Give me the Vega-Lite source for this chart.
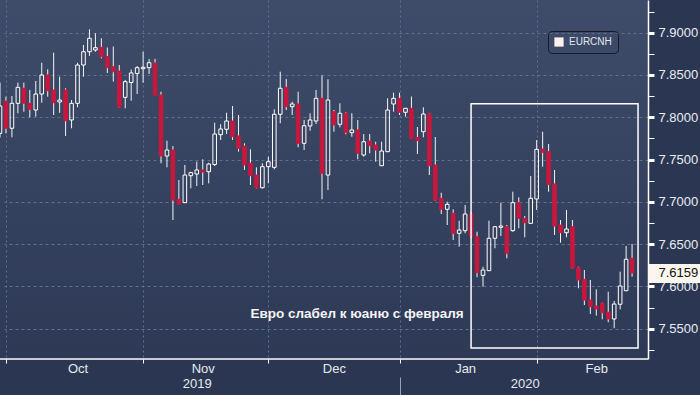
{
"$schema":"https://vega.github.io/schema/vega-lite/v6.json",
"width":648,"height":359,"autosize":"none",
"padding":{"left":0,"top":0,"right":52,"bottom":36},
"background":"#2b3752",
"view":{"stroke":null,"fill":{"gradient":"linear","x1":0,"y1":0,"x2":0,"y2":1,"stops":[{"offset":0,"color":"#3f4c69"},{"offset":1,"color":"#2d3955"}]}},
"data":{"values":[
{"d":"2019-09-30","o":7.7810,"h":7.8411,"l":7.7761,"c":7.8133},
{"d":"2019-10-01","o":7.8192,"h":7.8243,"l":7.7810,"c":7.7870},
{"d":"2019-10-02","o":7.7870,"h":7.8252,"l":7.7763,"c":7.8165},
{"d":"2019-10-03","o":7.8165,"h":7.8409,"l":7.8047,"c":7.8354},
{"d":"2019-10-04","o":7.8343,"h":7.8409,"l":7.8066,"c":7.8165},
{"d":"2019-10-07","o":7.8165,"h":7.8322,"l":7.8000,"c":7.8094},
{"d":"2019-10-08","o":7.8086,"h":7.8429,"l":7.8007,"c":7.8275},
{"d":"2019-10-09","o":7.8275,"h":7.8645,"l":7.8172,"c":7.8500},
{"d":"2019-10-10","o":7.8500,"h":7.8567,"l":7.8243,"c":7.8314},
{"d":"2019-10-11","o":7.8322,"h":7.8764,"l":7.8027,"c":7.8172},
{"d":"2019-10-14","o":7.8181,"h":7.8480,"l":7.8054,"c":7.8204},
{"d":"2019-10-15","o":7.8322,"h":7.8343,"l":7.7779,"c":7.7959},
{"d":"2019-10-16","o":7.7968,"h":7.8204,"l":7.7870,"c":7.8165},
{"d":"2019-10-17","o":7.8165,"h":7.8645,"l":7.8118,"c":7.8618},
{"d":"2019-10-18","o":7.8618,"h":7.8855,"l":7.8480,"c":7.8775},
{"d":"2019-10-21","o":7.8775,"h":7.9040,"l":7.8725,"c":7.8934},
{"d":"2019-10-22","o":7.8795,"h":7.8993,"l":7.8775,"c":7.8823},
{"d":"2019-10-23","o":7.8827,"h":7.8934,"l":7.8697,"c":7.8716},
{"d":"2019-10-24","o":7.8719,"h":7.8825,"l":7.8524,"c":7.8586},
{"d":"2019-10-25","o":7.8598,"h":7.8837,"l":7.8421,"c":7.8539},
{"d":"2019-10-28","o":7.8547,"h":7.8618,"l":7.8110,"c":7.8118},
{"d":"2019-10-29","o":7.8236,"h":7.8441,"l":7.8106,"c":7.8421},
{"d":"2019-10-30","o":7.8411,"h":7.8565,"l":7.8196,"c":7.8524},
{"d":"2019-10-31","o":7.8518,"h":7.8606,"l":7.8275,"c":7.8586},
{"d":"2019-11-01","o":7.8574,"h":7.8775,"l":7.8409,"c":7.8591},
{"d":"2019-11-04","o":7.8586,"h":7.8687,"l":7.8512,"c":7.8645},
{"d":"2019-11-05","o":7.8642,"h":7.8691,"l":7.8263,"c":7.8263},
{"d":"2019-11-06","o":7.8263,"h":7.8302,"l":7.7456,"c":7.7542},
{"d":"2019-11-07","o":7.7542,"h":7.7723,"l":7.7408,"c":7.7613},
{"d":"2019-11-08","o":7.7613,"h":7.7660,"l":7.6785,"c":7.7022},
{"d":"2019-11-11","o":7.7030,"h":7.7258,"l":7.6972,"c":7.6975},
{"d":"2019-11-12","o":7.6990,"h":7.7436,"l":7.6986,"c":7.7317},
{"d":"2019-11-13","o":7.7309,"h":7.7356,"l":7.7160,"c":7.7345},
{"d":"2019-11-14","o":7.7329,"h":7.7475,"l":7.7187,"c":7.7377},
{"d":"2019-11-15","o":7.7377,"h":7.7503,"l":7.7199,"c":7.7353},
{"d":"2019-11-18","o":7.7356,"h":7.7463,"l":7.7219,"c":7.7447},
{"d":"2019-11-19","o":7.7442,"h":7.7936,"l":7.7424,"c":7.7802},
{"d":"2019-11-20","o":7.7794,"h":7.7917,"l":7.7731,"c":7.7861},
{"d":"2019-11-21","o":7.7858,"h":7.8054,"l":7.7802,"c":7.7956},
{"d":"2019-11-22","o":7.7956,"h":7.8133,"l":7.7731,"c":7.7770},
{"d":"2019-11-25","o":7.7779,"h":7.8027,"l":7.7593,"c":7.7633},
{"d":"2019-11-26","o":7.7660,"h":7.7692,"l":7.7377,"c":7.7436},
{"d":"2019-11-27","o":7.7456,"h":7.7621,"l":7.7199,"c":7.7309},
{"d":"2019-11-28","o":7.7317,"h":7.7408,"l":7.7160,"c":7.7167},
{"d":"2019-11-29","o":7.7167,"h":7.7456,"l":7.7158,"c":7.7416},
{"d":"2019-12-02","o":7.7416,"h":7.7534,"l":7.7219,"c":7.7475},
{"d":"2019-12-03","o":7.7408,"h":7.8094,"l":7.7385,"c":7.8035},
{"d":"2019-12-04","o":7.8035,"h":7.8539,"l":7.7929,"c":7.8343},
{"d":"2019-12-05","o":7.8354,"h":7.8453,"l":7.8086,"c":7.8125},
{"d":"2019-12-06","o":7.8125,"h":7.8184,"l":7.8027,"c":7.8157},
{"d":"2019-12-09","o":7.8157,"h":7.8302,"l":7.7645,"c":7.7692},
{"d":"2019-12-10","o":7.7692,"h":7.7968,"l":7.7613,"c":7.7900},
{"d":"2019-12-11","o":7.7897,"h":7.8047,"l":7.7841,"c":7.7968},
{"d":"2019-12-12","o":7.7956,"h":7.8322,"l":7.7920,"c":7.8224},
{"d":"2019-12-13","o":7.8224,"h":7.8496,"l":7.7030,"c":7.7338},
{"d":"2019-12-16","o":7.7317,"h":7.8449,"l":7.7140,"c":7.8204},
{"d":"2019-12-17","o":7.8066,"h":7.8086,"l":7.7829,"c":7.7909},
{"d":"2019-12-18","o":7.7917,"h":7.8165,"l":7.7881,"c":7.8047},
{"d":"2019-12-19","o":7.8047,"h":7.8059,"l":7.7799,"c":7.7822},
{"d":"2019-12-20","o":7.7818,"h":7.8047,"l":7.7770,"c":7.7850},
{"d":"2019-12-23","o":7.7850,"h":7.7968,"l":7.7503,"c":7.7574},
{"d":"2019-12-24","o":7.7554,"h":7.7802,"l":7.7534,"c":7.7711},
{"d":"2019-12-25","o":7.7719,"h":7.7802,"l":7.7574,"c":7.7664},
{"d":"2019-12-26","o":7.7672,"h":7.7711,"l":7.7475,"c":7.7613},
{"d":"2019-12-27","o":7.7427,"h":7.7711,"l":7.7424,"c":7.7601},
{"d":"2019-12-30","o":7.7593,"h":7.8224,"l":7.7590,"c":7.8086},
{"d":"2019-12-31","o":7.8157,"h":7.8291,"l":7.8066,"c":7.8224},
{"d":"2020-01-01","o":7.8224,"h":7.8291,"l":7.8027,"c":7.8059},
{"d":"2020-01-02","o":7.8059,"h":7.8110,"l":7.8007,"c":7.8106},
{"d":"2020-01-03","o":7.8106,"h":7.8246,"l":7.7743,"c":7.7751},
{"d":"2020-01-06","o":7.7761,"h":7.7885,"l":7.7566,"c":7.7725},
{"d":"2020-01-07","o":7.7829,"h":7.8118,"l":7.7763,"c":7.8039},
{"d":"2020-01-08","o":7.8039,"h":7.8045,"l":7.7317,"c":7.7427},
{"d":"2020-01-09","o":7.7436,"h":7.7767,"l":7.7014,"c":7.7022},
{"d":"2020-01-10","o":7.7042,"h":7.7108,"l":7.6856,"c":7.6912},
{"d":"2020-01-13","o":7.6912,"h":7.7002,"l":7.6726,"c":7.6971},
{"d":"2020-01-14","o":7.6865,"h":7.6912,"l":7.6549,"c":7.6628},
{"d":"2020-01-15","o":7.6628,"h":7.6777,"l":7.6470,"c":7.6667},
{"d":"2020-01-16","o":7.6659,"h":7.6963,"l":7.6628,"c":7.6856},
{"d":"2020-01-17","o":7.6856,"h":7.6880,"l":7.6572,"c":7.6588},
{"d":"2020-01-20","o":7.6588,"h":7.6647,"l":7.6108,"c":7.6162},
{"d":"2020-01-21","o":7.6131,"h":7.6233,"l":7.5997,"c":7.6194},
{"d":"2020-01-22","o":7.6186,"h":7.6777,"l":7.6182,"c":7.6569},
{"d":"2020-01-23","o":7.6569,"h":7.6714,"l":7.6451,"c":7.6706},
{"d":"2020-01-24","o":7.6699,"h":7.6990,"l":7.6596,"c":7.6714},
{"d":"2020-01-27","o":7.6706,"h":7.6726,"l":7.6332,"c":7.6392},
{"d":"2020-01-28","o":7.6659,"h":7.7120,"l":7.6647,"c":7.6990},
{"d":"2020-01-29","o":7.6990,"h":7.7054,"l":7.6687,"c":7.6805},
{"d":"2020-01-30","o":7.6805,"h":7.6833,"l":7.6581,"c":7.6753},
{"d":"2020-01-31","o":7.6746,"h":7.7306,"l":7.6738,"c":7.7042},
{"d":"2020-02-03","o":7.7034,"h":7.7731,"l":7.6904,"c":7.7621},
{"d":"2020-02-04","o":7.7625,"h":7.7829,"l":7.7416,"c":7.7586},
{"d":"2020-02-05","o":7.7593,"h":7.7684,"l":7.7120,"c":7.7207},
{"d":"2020-02-06","o":7.7211,"h":7.7377,"l":7.6608,"c":7.6714},
{"d":"2020-02-07","o":7.6726,"h":7.6785,"l":7.6517,"c":7.6635},
{"d":"2020-02-10","o":7.6635,"h":7.6904,"l":7.6581,"c":7.6679},
{"d":"2020-02-11","o":7.6706,"h":7.6785,"l":7.6212,"c":7.6214},
{"d":"2020-02-12","o":7.6221,"h":7.6233,"l":7.5978,"c":7.6076},
{"d":"2020-02-13","o":7.6084,"h":7.6194,"l":7.5780,"c":7.5839},
{"d":"2020-02-14","o":7.5839,"h":7.6076,"l":7.5674,"c":7.5760},
{"d":"2020-02-17","o":7.5768,"h":7.5966,"l":7.5654,"c":7.5733},
{"d":"2020-02-18","o":7.5800,"h":7.5807,"l":7.5611,"c":7.5689},
{"d":"2020-02-19","o":7.5694,"h":7.5937,"l":7.5576,"c":7.5615},
{"d":"2020-02-20","o":7.5615,"h":7.5828,"l":7.5505,"c":7.5792},
{"d":"2020-02-21","o":7.5789,"h":7.6174,"l":7.5729,"c":7.6005},
{"d":"2020-02-24","o":7.5949,"h":7.6478,"l":7.5945,"c":7.6321},
{"d":"2020-02-25","o":7.6332,"h":7.6502,"l":7.6115,"c":7.6159}
]},
"resolve":{"scale":{"x":"shared","y":"shared"},"axis":{"x":"independent","y":"independent"}},
"layer":[
{"mark":{"type":"rule","color":"#f2f4f8","strokeWidth":1},
 "encoding":{
  "x":{"field":"d","type":"ordinal","sort":null,
   "scale":{"type":"point","padding":0,"range":[0,644],"domain":["2019-09-30","2019-10-01","2019-10-02","2019-10-03","2019-10-04","2019-10-07","2019-10-08","2019-10-09","2019-10-10","2019-10-11","2019-10-14","2019-10-15","2019-10-16","2019-10-17","2019-10-18","2019-10-21","2019-10-22","2019-10-23","2019-10-24","2019-10-25","2019-10-28","2019-10-29","2019-10-30","2019-10-31","2019-11-01","2019-11-04","2019-11-05","2019-11-06","2019-11-07","2019-11-08","2019-11-11","2019-11-12","2019-11-13","2019-11-14","2019-11-15","2019-11-18","2019-11-19","2019-11-20","2019-11-21","2019-11-22","2019-11-25","2019-11-26","2019-11-27","2019-11-28","2019-11-29","2019-12-02","2019-12-03","2019-12-04","2019-12-05","2019-12-06","2019-12-09","2019-12-10","2019-12-11","2019-12-12","2019-12-13","2019-12-16","2019-12-17","2019-12-18","2019-12-19","2019-12-20","2019-12-23","2019-12-24","2019-12-25","2019-12-26","2019-12-27","2019-12-30","2019-12-31","2020-01-01","2020-01-02","2020-01-03","2020-01-06","2020-01-07","2020-01-08","2020-01-09","2020-01-10","2020-01-13","2020-01-14","2020-01-15","2020-01-16","2020-01-17","2020-01-20","2020-01-21","2020-01-22","2020-01-23","2020-01-24","2020-01-27","2020-01-28","2020-01-29","2020-01-30","2020-01-31","2020-02-03","2020-02-04","2020-02-05","2020-02-06","2020-02-07","2020-02-10","2020-02-11","2020-02-12","2020-02-13","2020-02-14","2020-02-17","2020-02-18","2020-02-19","2020-02-20","2020-02-21","2020-02-24","2020-02-25","2020-02-26","2020-02-27"]},
   "axis":{"orient":"bottom","title":null,"values":["2019-10-01","2019-11-01","2019-12-02","2020-01-01","2020-02-03"],"labels":false,"domain":false,"ticks":true,"tickColor":"#ffffff","tickSize":4,"tickWidth":1,"grid":true,"gridColor":"#5c7191","gridDash":[2,3],"gridWidth":1}},
  "y":{"field":"h","type":"quantitative",
   "scale":{"domain":[7.51417,7.93867],"nice":false,"zero":false},
   "axis":{"orient":"right","title":null,"values":[7.525,7.55,7.575,7.6,7.625,7.65,7.675,7.7,7.725,7.75,7.775,7.8,7.825,7.85,7.875,7.9,7.925],
    "labelExpr":"round(datum.value*1000) % 50 == 0 ? format(datum.value, '.4f') : ''",
    "domainColor":"#ffffff","domainWidth":1.5,"tickColor":"#ffffff","tickSize":6,
    "tickWidth":{"condition":{"test":"round(datum.value*1000) % 50 == 0","value":3},"value":1},
    "labelPadding":4,"labelFont":"Liberation Sans","labelFontSize":13,"labelColor":"#e9ecf2","labelAlign":"left","labelBaseline":"middle","labelOverlap":false,"labelFlush":false,"labelBound":false,
    "grid":true,"gridColor":"#5c7191","gridDash":[3,3],"gridWidth":1,
    "gridOpacity":{"condition":{"test":"round(datum.value*1000) % 50 == 0","value":1},"value":0}}},
  "y2":{"field":"c"}}},
{"mark":{"type":"rule","color":"#f2f4f8","strokeWidth":1},
 "encoding":{
  "x":{"field":"d","type":"ordinal","sort":null,
   "axis":{"orient":"bottom","title":null,"values":["2019-10-17","2019-11-15","2019-12-17","2020-01-16","2020-02-17"],"labelExpr":"utcFormat(toDate(datum.value),'%b')","domain":false,"ticks":false,"tickSize":0,"grid":false,"labelPadding":3,"labelAngle":0,"labelFont":"Liberation Sans","labelFontSize":13,"labelColor":"#e6e9ef","labelOverlap":false,"labelBound":false}},
  "y":{"field":"o","type":"quantitative","axis":null},
  "y2":{"field":"l"}}},
{"mark":{"type":"bar","width":3.6,"strokeWidth":1},
 "encoding":{
  "x":{"field":"d","type":"ordinal","sort":null,
   "axis":{"orient":"bottom","title":null,"values":["2019-11-14","2020-01-30"],"labelExpr":"slice(datum.value,0,4)","domain":false,"ticks":false,"tickSize":0,"grid":false,"labelPadding":18,"labelAngle":0,"labelFont":"Liberation Sans","labelFontSize":13,"labelColor":"#e6e9ef","labelOverlap":false,"labelBound":false}},
  "y":{"field":"o","type":"quantitative","axis":null},
  "y2":{"field":"c"},
  "fill":{"condition":{"test":"datum.c < datum.o","value":"#c8173d"},"value":"transparent"},
  "stroke":{"condition":{"test":"datum.c < datum.o","value":"#c8173d"},"value":"#ffffff"}}},
{"data":{"values":[{"x1":"2020-01-17","x2":"2020-02-26","y1":7.8161,"y2":7.5272}]},
 "mark":{"type":"rect","fill":"transparent","stroke":"#ffffff","strokeWidth":1.5},
 "encoding":{
  "x":{"field":"x1","type":"ordinal",
   "axis":{"orient":"bottom","title":null,"values":["2020-01-01"],"labels":false,"domain":false,"grid":false,"offset":18,"tickSize":18,"tickColor":"#9aa3b5","tickWidth":1}},
  "x2":{"field":"x2"},
  "y":{"field":"y1","type":"quantitative","axis":null},
  "y2":{"field":"y2"}}},
{"data":{"values":[{"d":"2019-11-27","v":7.5632,"label":"Евро слабел к юаню с февраля"}]},
 "mark":{"type":"text","align":"left","baseline":"alphabetic","font":"Liberation Sans","fontWeight":"bold","fontSize":13.5,"color":"#f4f4f6"},
 "encoding":{
  "x":{"field":"d","type":"ordinal","axis":null},
  "y":{"field":"v","type":"quantitative","axis":null},
  "text":{"field":"label"}}},
{"data":{"values":[{"v":7.6159}]},
 "mark":{"type":"rule","opacity":0},
 "encoding":{
  "y":{"field":"v","type":"quantitative",
   "axis":{"orient":"right","title":null,"values":[7.6159],"format":".4f","domain":false,"grid":false,"tickColor":"#fbf6ee","tickSize":52,"tickWidth":19,"labelPadding":-42,"labelColor":"#111111","labelFont":"Liberation Sans","labelFontSize":13,"labelAlign":"left","labelBaseline":"middle","labelFlush":false,"labelBound":false,"zindex":3}}}},
{"data":{"values":[{"d":"2019-09-30","v":7.8,"s":"EURCNH"}]},
 "mark":{"type":"point","filled":true,"size":0},
 "encoding":{
  "x":{"field":"d","type":"ordinal","axis":null},
  "y":{"field":"v","type":"quantitative","axis":null},
  "color":{"field":"s","type":"nominal","scale":{"range":["#fdf0ee"]},
   "legend":{"orient":"none","legendX":548,"legendY":31,"title":null,"padding":6,"strokeColor":"#141a28","cornerRadius":4,"symbolType":"square","symbolSize":85,"symbolStrokeWidth":0,"symbolOpacity":1,"labelColor":"#e2e6ee","labelFontSize":10,"labelFont":"Liberation Sans","labelOffset":5}}}},
{"data":{"values":[{"v":7.51417}]},
 "mark":{"type":"rule","color":"#ffffff","strokeWidth":1.5},
 "encoding":{"y":{"field":"v","type":"quantitative","axis":null}}}
]
}
